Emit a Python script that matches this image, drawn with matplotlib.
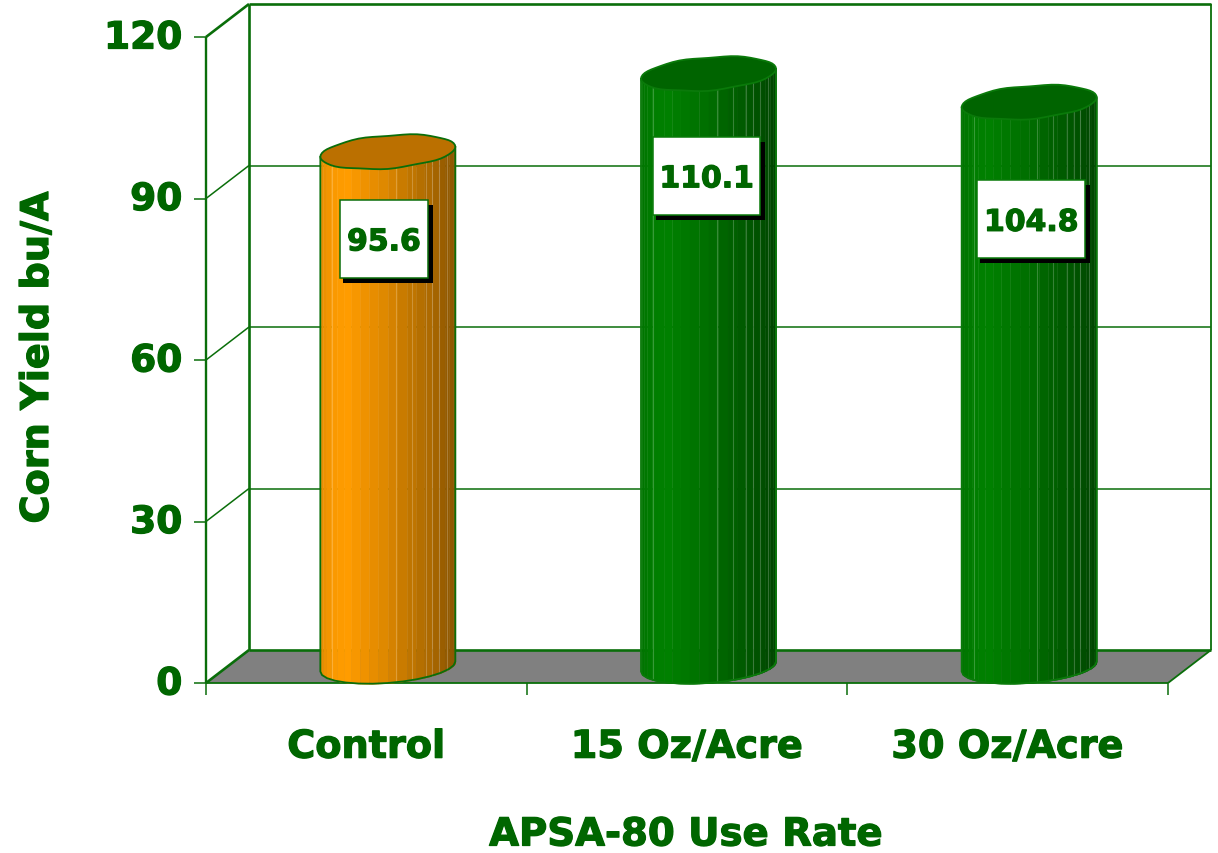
import numpy as np
import matplotlib
matplotlib.use("Agg")
import matplotlib.pyplot as plt
import matplotlib.patheffects as pe
from matplotlib.patches import Polygon, Rectangle
from matplotlib.colors import to_rgb
from matplotlib.transforms import ScaledTranslation

categories = ["Control", "15 Oz/Acre", "30 Oz/Acre"]
yields = [95.6, 110.1, 104.8]
value_labels = ["95.6", "110.1", "104.8"]
y_ticks = [0, 30, 60, 90, 120]

GREEN = "#006600"
LINE = "#0a6e0a"
FONT = "DejaVu Sans"
bar_colors = ["#ff9c00", "#008000", "#008000"]
top_colors = ["#bb7000", "#006400", "#006400"]
edge_colors = ["#0a6e0a", "#0a7a0a", "#0a7a0a"]
# label box centre, pixels below the top of each cylinder
box_drop = [87, 102, 117]
box_w = [88, 107, 108]
box_h = 78
box_dx = [-4, -2, 2]

W, H = 1218, 854
fig = plt.figure(figsize=(W / 100, H / 100), dpi=100)
ax = fig.add_axes([206 / W, (H - 684) / H, 962 / W, 646 / H])
ax.set_xlim(-0.5, 2.5)
ax.set_ylim(0, 120)
for s in ax.spines.values():
    s.set_visible(False)

# pixels to data units
ux = 3 / 962
uy = 120 / 646
dep_x, dep_y = 43 * ux, 33 * uy
heavy = [pe.withStroke(linewidth=0.9, foreground=GREEN)]


def line(x, y, lw=1.1):
    ax.plot(x, y, color=LINE, lw=lw, clip_on=False, zorder=2, solid_capstyle="butt")


# floor and walls
ax.add_patch(Polygon([(-0.5, 0), (2.5, 0), (2.5 + dep_x, dep_y), (-0.5 + dep_x, dep_y)],
                     facecolor="#808080", edgecolor="none", clip_on=False, zorder=1))
line([-0.5, -0.5], [0, 120], 1.7)
line([-0.5 + dep_x, -0.5 + dep_x], [dep_y, 120 + dep_y], 1.9)
line([2.5 + dep_x, 2.5 + dep_x], [dep_y, 120 + dep_y], 1.3)
line([-0.5, 2.5], [0, 0], 1.3)
line([2.5, 2.5 + dep_x], [0, dep_y], 1.3)
line([-0.5 + dep_x, 2.5 + dep_x], [dep_y, dep_y], 1.9)
line([-0.5, -0.5 + dep_x], [0, dep_y], 1.9)
for v in y_ticks[1:]:
    w = 1.9 if v == 120 else 1.1
    line([-0.5, -0.5 + dep_x], [v, v + dep_y], w)
    line([-0.5 + dep_x, 2.5 + dep_x], [v + dep_y, v + dep_y], w)

ax.set_yticks(y_ticks)
ax.set_yticklabels([str(v) for v in y_ticks], fontsize=27, fontweight="bold",
                   family=FONT, color=GREEN, path_effects=heavy)
ax.set_xticks([-0.5, 0.5, 1.5, 2.5])
ax.set_xticklabels([])
ax.set_xticks([0, 1, 2], minor=True)
ax.set_xticklabels(categories, minor=True, fontsize=27.5, fontweight="bold",
                   family=FONT, color=GREEN, path_effects=heavy)
ax.tick_params(axis="y", length=8.6, width=1.1, color=LINE, pad=8.5)
ax.tick_params(axis="x", which="major", length=8.6, width=1.1, color=LINE)
ax.tick_params(axis="x", which="minor", length=0, pad=33.6)
shift_up = ScaledTranslation(0, 2.5 / 100, fig.dpi_scale_trans)
for lab in ax.get_yticklabels():
    lab.set_transform(lab.get_transform() + shift_up)

a_px, b_px, tilt_px = 67.5, 16.5, 5
theta = np.linspace(0, 2 * np.pi, 57)
# darkening across the cylinder, left edge to right edge
shade_pos = [0.0, 0.09, 0.2, 0.36, 0.5, 0.62, 0.72, 0.8, 0.87, 0.93, 1.0]
shade_val = [0.9, 0.98, 1.0, 0.92, 0.86, 0.78, 0.72, 0.68, 0.63, 0.58, 0.55]
light_lines = [0.09, 0.56, 0.68, 0.78, 0.83, 0.88, 0.94]

for i, v in enumerate(yields):
    cx = i + dep_x / 2
    cy0 = dep_y / 2
    cy1 = v + dep_y / 2
    base = np.array(to_rgb(bar_colors[i]))
    edges = 0.5 - 0.5 * np.cos(np.linspace(0, np.pi, 23))
    for e0, e1 in zip(edges[:-1], edges[1:]):
        frac = (e0 + e1) / 2
        col = base * np.interp(frac, shade_pos, shade_val)
        xs = np.linspace(e0, e1, 5) * 2 - 1
        ox = xs * a_px * ux
        low = -np.sqrt(np.clip(1 - xs ** 2, 0, 1)) * b_px + xs * tilt_px
        ax.fill_between(cx + ox, cy0 + low * uy, cy1 + xs * tilt_px * uy, color=col,
                        lw=0.3, zorder=3, clip_on=False)
    for f in light_lines:
        xf = f * 2 - 1
        low = -np.sqrt(1 - xf ** 2) * b_px + xf * tilt_px
        ax.plot([cx + xf * a_px * ux] * 2, [cy0 + low * uy, cy1 + xf * tilt_px * uy],
                color="white", alpha=0.22, lw=0.8, zorder=3.5, clip_on=False)
    # outline of the body
    t = np.linspace(np.pi, 2 * np.pi, 15)
    ox = a_px * np.cos(t)
    oy = b_px * np.sin(t) + tilt_px * np.cos(t)
    ax.plot(np.r_[cx - a_px * ux, cx + ox * ux, cx + a_px * ux],
            np.r_[cy1 - tilt_px * uy, cy0 + oy * uy, cy1 + tilt_px * uy],
            color=edge_colors[i], lw=1.3, zorder=4, clip_on=False)
    # top cap, slightly uneven rim like the original clip art
    ox = a_px * np.cos(theta)
    oy = (b_px + 0.6 * np.sin(7 * theta)) * np.sin(theta) + tilt_px * np.cos(theta)
    ax.add_patch(Polygon(np.c_[cx + ox * ux, cy1 + oy * uy], closed=True,
                         facecolor=top_colors[i], edgecolor=edge_colors[i], lw=1.3,
                         zorder=5, clip_on=False))
    # value label with drop shadow
    bx = cx + box_dx[i] * ux
    by = cy1 - box_drop[i] * uy
    bw, bh = box_w[i] * ux, box_h * uy
    ax.add_patch(Rectangle((bx - bw / 2 + 3 * ux, by - bh / 2 - 5 * uy), bw + 2 * ux, bh,
                           facecolor="black", edgecolor="none", zorder=6, clip_on=False))
    ax.add_patch(Rectangle((bx - bw / 2, by - bh / 2), bw, bh, facecolor="white",
                           edgecolor=edge_colors[i], lw=1.1, zorder=7, clip_on=False))
    ax.text(bx, by, value_labels[i], ha="center", va="center_baseline", fontsize=21.5,
            fontweight="bold", family=FONT, color=GREEN, zorder=8, path_effects=heavy)

fig.text(686 / W, 1 - 835.5 / H, "APSA-80 Use Rate", ha="center", va="center", fontsize=27.8,
         fontweight="bold", family=FONT, color=GREEN, path_effects=heavy)
fig.text(38 / W, 1 - 358 / H, "Corn Yield bu/A", ha="center", va="center", rotation=90,
         fontsize=27.5, fontweight="bold", family=FONT, color=GREEN, path_effects=heavy)

fig.savefig("out.png", dpi=100)
